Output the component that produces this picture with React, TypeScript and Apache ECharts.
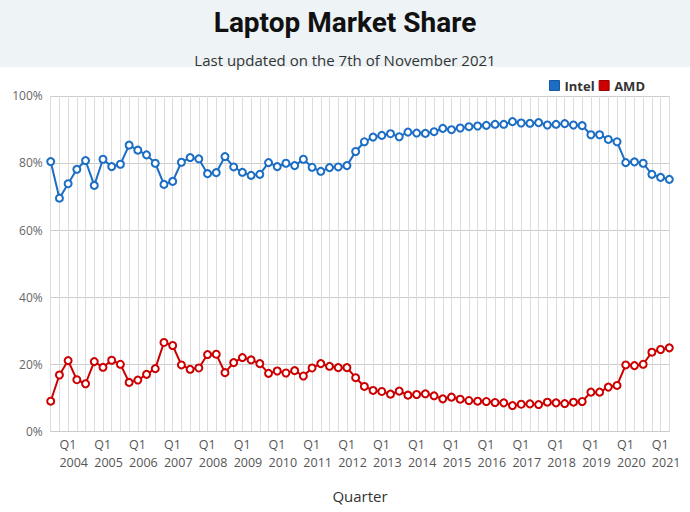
import React, { useEffect, useRef } from "react";
import * as echarts from "echarts";

const quarters: string[] = [];
(function build() {
  // 2003 Q4 .. 2021 Q3
  let y = 2003;
  let q = 4;
  for (let i = 0; i < 72; i++) {
    quarters.push(`Q${q} ${y}`);
    q++;
    if (q > 4) {
      q = 1;
      y++;
    }
  }
})();

const intel = [
  80.4, 69.5, 73.8, 78.1, 80.7, 73.3, 81.1, 78.9, 79.6, 85.3,
  83.8, 82.4, 79.9, 73.6, 74.5, 80.2, 81.6, 81.2, 76.8, 77.1,
  81.9, 78.8, 77.2, 76.3, 76.6, 80.1, 78.9, 79.9, 79.2, 81.1,
  78.7, 77.5, 78.6, 78.8, 79.2, 83.4, 86.3, 87.7, 88.2, 88.7,
  87.8, 89.2, 88.9, 88.8, 89.3, 90.3, 89.9, 90.4, 90.8, 91.0,
  91.2, 91.5, 91.5, 92.3, 91.9, 91.8, 92.0, 91.3, 91.5, 91.7,
  91.3, 91.1, 88.4, 88.4, 87.0, 86.3, 80.1, 80.3, 79.9, 76.6,
  75.7, 75.1,
];

const amd = [
  9.0, 16.8, 21.1, 15.4, 14.2, 20.8, 19.1, 21.2, 20.0, 14.6,
  15.3, 17.0, 18.7, 26.5, 25.6, 19.8, 18.5, 18.9, 22.9, 23.0,
  17.5, 20.5, 22.0, 21.3, 20.2, 17.3, 18.0, 17.4, 18.1, 16.5,
  18.9, 20.2, 19.4, 19.0, 19.0, 16.0, 13.4, 12.2, 11.9, 11.1,
  12.0, 10.8, 11.0, 11.2, 10.6, 9.7, 10.2, 9.6, 9.2, 9.0,
  8.9, 8.6, 8.5, 7.7, 8.1, 8.2, 8.0, 8.7, 8.5, 8.3,
  8.7, 8.9, 11.7, 11.7, 13.2, 13.7, 19.8, 19.6, 20.0, 23.6,
  24.4, 24.9,
];

const INTEL_COLOR = "#1c6dc4";
const AMD_COLOR = "#cc0000";

export default function App() {
  const ref = useRef<HTMLDivElement>(null);
  useEffect(() => {
    if (!ref.current) return;
    const chart = echarts.init(ref.current, null, { renderer: "svg" });
    const font = "'Open Sans', 'Noto Sans', sans-serif";
    chart.setOption({
      animation: false,
      backgroundColor: "#ffffff",
      textStyle: { fontFamily: font },
      graphic: [
        {
          type: "rect",
          left: 0,
          top: 0,
          z: -10,
          shape: { width: 690, height: 67 },
          style: { fill: "#eef3f6" },
          silent: true,
        },
      ],
      title: [
        {
          text: "Laptop Market Share",
          left: "center",
          top: 3,
          textStyle: {
            fontFamily: "Roboto, 'Open Sans', sans-serif",
            fontSize: 28,
            fontWeight: "bold",
            color: "#111111",
          },
        },
        {
          text: "Last updated on the 7th of November 2021",
          left: "center",
          top: 47,
          textStyle: {
            fontFamily: font,
            fontSize: 15,
            fontWeight: "normal",
            color: "#333333",
          },
        },
      ],
      legend: {
        right: 40,
        top: 74,
        itemWidth: 10,
        itemHeight: 10,
        itemGap: 4,
        icon: "rect",
        textStyle: {
          fontFamily: font,
          fontSize: 13,
          fontWeight: "bold",
          color: "#333333",
        },
        data: [
          { name: "Intel", itemStyle: { color: INTEL_COLOR, borderColor: "#15599f", borderWidth: 1 } },
          { name: "AMD", itemStyle: { color: AMD_COLOR, borderColor: "#9e0000", borderWidth: 1 } },
        ],
      },
      grid: {
        left: 50.7,
        right: 20.7,
        top: 95.8,
        bottom: 80.6,
        containLabel: false,
      },
      xAxis: {
        type: "category",
        data: quarters,
        boundaryGap: false,
        name: "Quarter",
        nameLocation: "middle",
        nameGap: 57,
        nameTextStyle: { fontFamily: font, fontSize: 15, color: "#333333" },
        axisLine: { show: true, lineStyle: { color: "#cccccc" } },
        axisTick: { show: false },
        axisLabel: {
          interval: (index: number) => index % 4 === 1,
          formatter: (v: string) => {
            const [q, y] = v.split(" ");
            return `${q}\n${y}`;
          },
          align: "left",
          margin: 4,
          lineHeight: 18,
          fontFamily: font,
          fontSize: 12.5,
          color: "#555555",
        },
        splitLine: {
          show: true,
          interval: 0,
          lineStyle: { color: "#dcdcdc", width: 1 },
        },
      },
      yAxis: {
        type: "value",
        min: 0,
        max: 100,
        interval: 20,
        axisLine: { show: false },
        axisTick: { show: false },
        axisLabel: {
          formatter: "{value}%",
          margin: 8,
          fontFamily: font,
          fontSize: 12,
          color: "#666666",
        },
        splitLine: { lineStyle: { color: "#cccccc", width: 1 } },
      },
      series: [
        {
          name: "Intel",
          type: "line",
          data: intel,
          symbol: "circle",
          symbolSize: 7,
          showAllSymbol: true,
          lineStyle: { color: INTEL_COLOR, width: 2 },
          itemStyle: { color: "#ffffff", borderColor: INTEL_COLOR, borderWidth: 2 },
          emphasis: { disabled: true },
        },
        {
          name: "AMD",
          type: "line",
          data: amd,
          symbol: "circle",
          symbolSize: 7,
          showAllSymbol: true,
          lineStyle: { color: AMD_COLOR, width: 2 },
          itemStyle: { color: "#ffffff", borderColor: AMD_COLOR, borderWidth: 2 },
          emphasis: { disabled: true },
        },
      ],
    });
    return () => chart.dispose();
  }, []);
  return (
    <div
      ref={ref}
      style={{ position: "absolute", left: 0, top: 0, width: 690, height: 512 }}
    />
  );
}
